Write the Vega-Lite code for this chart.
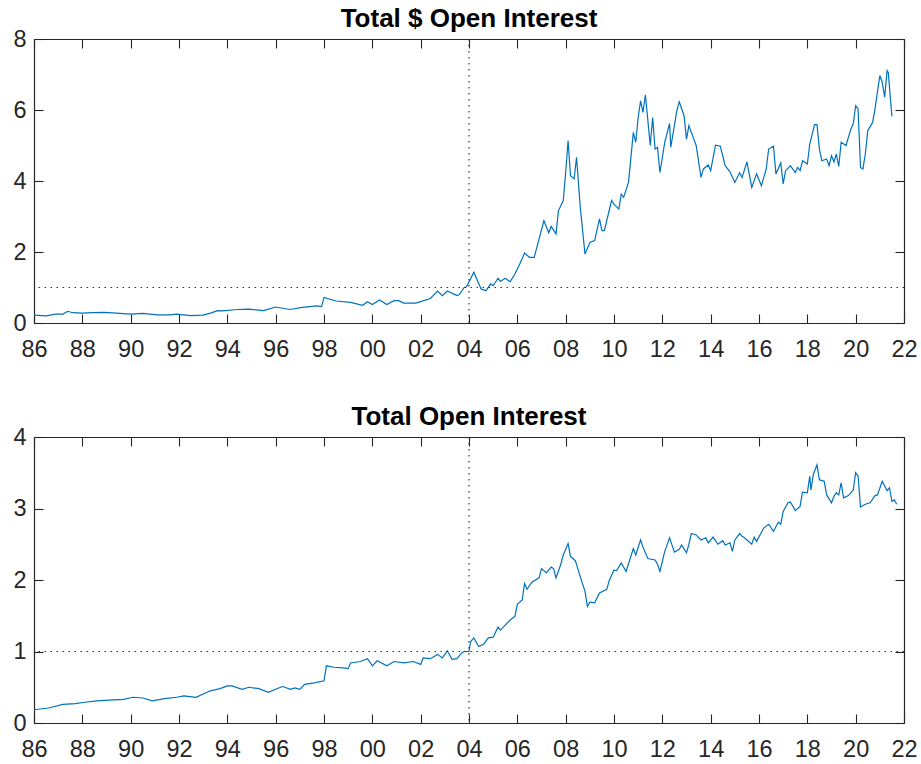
{
  "$schema": "https://vega.github.io/schema/vega-lite/v6.json",
  "padding": {"left": 12, "top": 6, "right": 4, "bottom": 2},
  "background": "white",
  "config": {
    "font": "Liberation Sans",
    "view": {"stroke": null},
    "axis": {"domainColor": "#262626", "tickColor": "#262626", "labelColor": "#262626", "labelFont": "Liberation Sans", "labelFontSize": 23.5, "grid": false, "tickSize": -9, "domainWidth": 1.2, "tickWidth": 1.1, "title": null, "labelFlush": false, "labelOverlap": false},
    "axisBottom": {"labelPadding": 23},
    "axisLeft": {"labelPadding": 17},
    "axisTop": {"labelPadding": 0, "minExtent": 0, "maxExtent": 0},
    "axisRight": {"labelPadding": 0, "minExtent": 0, "maxExtent": 0},
    "title": {"font": "Liberation Sans", "fontSize": 26, "fontWeight": "bold", "color": "#000", "offset": -5}
  },
  "datasets": {
    "dollar": [
      {"t":1986.0,"v":0.22},{"t":1986.5,"v":0.2},{"t":1986.9,"v":0.25},{"t":1987.2,"v":0.25},{"t":1987.4,"v":0.33},{"t":1987.6,"v":0.29},{"t":1988.0,"v":0.28},{"t":1988.4,"v":0.29},{"t":1988.9,"v":0.3},{"t":1989.4,"v":0.28},{"t":1990.0,"v":0.25},{"t":1990.5,"v":0.27},{"t":1991.1,"v":0.23},{"t":1991.6,"v":0.23},{"t":1991.9,"v":0.25},{"t":1992.5,"v":0.21},{"t":1993.0,"v":0.22},{"t":1993.3,"v":0.28},{"t":1993.6,"v":0.35},{"t":1993.8,"v":0.34},{"t":1994.4,"v":0.38},{"t":1994.9,"v":0.39},{"t":1995.5,"v":0.35},{"t":1996.0,"v":0.45},{"t":1996.6,"v":0.38},{"t":1997.1,"v":0.44},{"t":1997.7,"v":0.48},{"t":1997.9,"v":0.46},{"t":1998.0,"v":0.72},{"t":1998.5,"v":0.62},{"t":1999.1,"v":0.58},{"t":1999.6,"v":0.5},{"t":1999.8,"v":0.6},{"t":2000.0,"v":0.52},{"t":2000.3,"v":0.65},{"t":2000.6,"v":0.52},{"t":2000.9,"v":0.63},{"t":2001.1,"v":0.63},{"t":2001.3,"v":0.56},{"t":2001.8,"v":0.56},{"t":2002.4,"v":0.69},{"t":2002.7,"v":0.9},{"t":2002.9,"v":0.77},{"t":2003.1,"v":0.9},{"t":2003.5,"v":0.77},{"t":2003.6,"v":0.8},{"t":2003.8,"v":1.0},{"t":2003.9,"v":1.02},
      {"t":2004.2,"v":1.43},{"t":2004.5,"v":0.96},{"t":2004.7,"v":0.91},{"t":2004.9,"v":1.1},{"t":2005.0,"v":1.05},{"t":2005.2,"v":1.26},{"t":2005.3,"v":1.17},{"t":2005.5,"v":1.26},{"t":2005.7,"v":1.16},{"t":2005.9,"v":1.38},{"t":2006.1,"v":1.66},{"t":2006.3,"v":1.97},{"t":2006.5,"v":1.85},{"t":2006.7,"v":1.85},{"t":2006.9,"v":2.37},{"t":2007.1,"v":2.88},{"t":2007.3,"v":2.54},{"t":2007.4,"v":2.72},{"t":2007.6,"v":2.51},{"t":2007.7,"v":3.16},{"t":2007.9,"v":3.45},{"t":2008.0,"v":4.24},{"t":2008.1,"v":5.14},{"t":2008.2,"v":4.15},{"t":2008.35,"v":4.06},{"t":2008.45,"v":4.67},{"t":2008.6,"v":3.3},{"t":2008.8,"v":1.94},{"t":2009.0,"v":2.27},{"t":2009.2,"v":2.32},{"t":2009.4,"v":2.93},{"t":2009.5,"v":2.6},{"t":2009.6,"v":2.6},{"t":2009.9,"v":3.45},{"t":2010.0,"v":3.35},{"t":2010.2,"v":3.21},{"t":2010.3,"v":3.63},{"t":2010.4,"v":3.54},{"t":2010.6,"v":3.96},{"t":2010.8,"v":5.37},{"t":2010.9,"v":5.09},{"t":2011.0,"v":5.79},{"t":2011.1,"v":6.26},{"t":2011.2,"v":5.93},{"t":2011.3,"v":6.43},{"t":2011.5,"v":5.0},{"t":2011.6,"v":5.79},{"t":2011.7,"v":4.9},{"t":2011.8,"v":4.95},{"t":2011.9,"v":4.24},{"t":2012.1,"v":5.09},{"t":2012.3,"v":5.62},{"t":2012.35,"v":4.95},{"t":2012.6,"v":5.98},{"t":2012.7,"v":6.23},{"t":2012.9,"v":5.84},{"t":2013.0,"v":5.18},{"t":2013.1,"v":5.56},{"t":2013.2,"v":5.37},{"t":2013.4,"v":5.0},{"t":2013.6,"v":4.1},{"t":2013.7,"v":4.34},{"t":2013.9,"v":4.45},{"t":2014.0,"v":4.29},{"t":2014.2,"v":5.01},{"t":2014.4,"v":4.98},{"t":2014.6,"v":4.43},{"t":2014.8,"v":4.26},{"t":2015.0,"v":3.96},{"t":2015.2,"v":4.23},{"t":2015.3,"v":4.1},{"t":2015.5,"v":4.54},{"t":2015.7,"v":3.82},{"t":2015.9,"v":4.2},{"t":2016.1,"v":3.87},{"t":2016.3,"v":4.34},{"t":2016.4,"v":4.9},{"t":2016.6,"v":4.98},{"t":2016.7,"v":4.2},{"t":2016.9,"v":4.51},{"t":2017.0,"v":3.92},{"t":2017.1,"v":4.29},{"t":2017.3,"v":4.43},{"t":2017.5,"v":4.24},{"t":2017.6,"v":4.38},{"t":2017.7,"v":4.29},{"t":2017.8,"v":4.57},{"t":2018.0,"v":4.48},{"t":2018.1,"v":5.04},{"t":2018.3,"v":5.59},{"t":2018.4,"v":5.59},{"t":2018.5,"v":4.9},{"t":2018.6,"v":4.57},{"t":2018.8,"v":4.62},{"t":2018.9,"v":4.43},{"t":2019.0,"v":4.71},{"t":2019.1,"v":4.54},{"t":2019.2,"v":4.76},{"t":2019.3,"v":4.41},{"t":2019.4,"v":5.09},{"t":2019.6,"v":5.0},{"t":2019.8,"v":5.46},{"t":2019.9,"v":5.61},{"t":2020.0,"v":6.12},{"t":2020.1,"v":6.03},{"t":2020.2,"v":4.38},{"t":2020.3,"v":4.34},{"t":2020.4,"v":4.76},{"t":2020.5,"v":5.42},{"t":2020.7,"v":5.65},{"t":2020.8,"v":6.03},{"t":2021.0,"v":6.97},{"t":2021.1,"v":6.78},{"t":2021.2,"v":6.36},{"t":2021.3,"v":7.11},{"t":2021.35,"v":7.06},{"t":2021.45,"v":6.22},{"t":2021.5,"v":5.82}
    ],
    "total": [
      {"t":1986.0,"v":0.185},{"t":1986.6,"v":0.21},{"t":1987.2,"v":0.26},{"t":1987.7,"v":0.27},{"t":1988.1,"v":0.29},{"t":1988.6,"v":0.31},{"t":1989.1,"v":0.32},{"t":1989.7,"v":0.33},{"t":1990.1,"v":0.36},{"t":1990.5,"v":0.35},{"t":1990.9,"v":0.31},{"t":1991.4,"v":0.34},{"t":1991.9,"v":0.36},{"t":1992.2,"v":0.38},{"t":1992.7,"v":0.36},{"t":1993.3,"v":0.45},{"t":1993.7,"v":0.48},{"t":1994.0,"v":0.52},{"t":1994.2,"v":0.52},{"t":1994.6,"v":0.47},{"t":1994.9,"v":0.5},{"t":1995.3,"v":0.48},{"t":1995.7,"v":0.43},{"t":1996.2,"v":0.5},{"t":1996.3,"v":0.51},{"t":1996.6,"v":0.47},{"t":1996.8,"v":0.49},{"t":1997.0,"v":0.47},{"t":1997.2,"v":0.54},{"t":1997.6,"v":0.56},{"t":1998.0,"v":0.59},{"t":1998.1,"v":0.8},{"t":1998.4,"v":0.78},{"t":1998.8,"v":0.77},{"t":1999.0,"v":0.76},{"t":1999.1,"v":0.84},{"t":1999.5,"v":0.86},{"t":1999.8,"v":0.9},{"t":2000.0,"v":0.8},{"t":2000.2,"v":0.87},{"t":2000.6,"v":0.8},{"t":2000.9,"v":0.86},{"t":2001.3,"v":0.84},{"t":2001.7,"v":0.86},{"t":2002.0,"v":0.82},{"t":2002.1,"v":0.91},{"t":2002.4,"v":0.9},{"t":2002.7,"v":0.96},{"t":2002.9,"v":0.91},{"t":2003.1,"v":1.01},{"t":2003.3,"v":0.89},{"t":2003.5,"v":0.9},{"t":2003.7,"v":0.98},{"t":2003.8,"v":1.0},{"t":2004.0,"v":1.0},
      {"t":2004.07,"v":1.14},{"t":2004.2,"v":1.19},{"t":2004.4,"v":1.07},{"t":2004.6,"v":1.1},{"t":2004.8,"v":1.19},{"t":2005.0,"v":1.2},{"t":2005.2,"v":1.34},{"t":2005.3,"v":1.3},{"t":2005.5,"v":1.37},{"t":2005.7,"v":1.44},{"t":2005.9,"v":1.49},{"t":2006.0,"v":1.66},{"t":2006.2,"v":1.72},{"t":2006.3,"v":1.95},{"t":2006.4,"v":1.87},{"t":2006.6,"v":1.97},{"t":2006.9,"v":2.03},{"t":2007.0,"v":2.16},{"t":2007.2,"v":2.1},{"t":2007.4,"v":2.18},{"t":2007.5,"v":2.16},{"t":2007.6,"v":2.03},{"t":2007.8,"v":2.22},{"t":2007.9,"v":2.35},{"t":2008.1,"v":2.51},{"t":2008.2,"v":2.33},{"t":2008.4,"v":2.27},{"t":2008.6,"v":2.05},{"t":2008.8,"v":1.84},{"t":2008.9,"v":1.63},{"t":2009.0,"v":1.69},{"t":2009.2,"v":1.68},{"t":2009.4,"v":1.82},{"t":2009.7,"v":1.87},{"t":2009.8,"v":1.99},{"t":2010.0,"v":2.14},{"t":2010.1,"v":2.13},{"t":2010.3,"v":2.24},{"t":2010.5,"v":2.12},{"t":2010.8,"v":2.44},{"t":2010.9,"v":2.35},{"t":2011.1,"v":2.56},{"t":2011.2,"v":2.46},{"t":2011.4,"v":2.3},{"t":2011.7,"v":2.28},{"t":2011.8,"v":2.22},{"t":2011.9,"v":2.12},{"t":2012.1,"v":2.4},{"t":2012.3,"v":2.59},{"t":2012.5,"v":2.39},{"t":2012.7,"v":2.43},{"t":2012.8,"v":2.49},{"t":2013.0,"v":2.38},{"t":2013.1,"v":2.5},{"t":2013.2,"v":2.65},{"t":2013.4,"v":2.63},{"t":2013.6,"v":2.56},{"t":2013.8,"v":2.59},{"t":2013.9,"v":2.52},{"t":2014.1,"v":2.6},{"t":2014.3,"v":2.5},{"t":2014.5,"v":2.55},{"t":2014.6,"v":2.49},{"t":2014.8,"v":2.52},{"t":2014.9,"v":2.4},{"t":2015.0,"v":2.56},{"t":2015.2,"v":2.65},{"t":2015.3,"v":2.61},{"t":2015.4,"v":2.59},{"t":2015.7,"v":2.5},{"t":2015.8,"v":2.6},{"t":2015.9,"v":2.54},{"t":2016.2,"v":2.73},{"t":2016.4,"v":2.78},{"t":2016.6,"v":2.68},{"t":2016.8,"v":2.81},{"t":2016.9,"v":2.78},{"t":2017.0,"v":2.96},{"t":2017.2,"v":3.08},{"t":2017.3,"v":3.09},{"t":2017.5,"v":2.97},{"t":2017.7,"v":3.03},{"t":2017.8,"v":3.23},{"t":2018.0,"v":3.22},{"t":2018.1,"v":3.45},{"t":2018.15,"v":3.26},{"t":2018.25,"v":3.48},{"t":2018.4,"v":3.61},{"t":2018.5,"v":3.4},{"t":2018.7,"v":3.38},{"t":2018.8,"v":3.19},{"t":2019.0,"v":3.08},{"t":2019.1,"v":3.17},{"t":2019.2,"v":3.22},{"t":2019.3,"v":3.19},{"t":2019.4,"v":3.36},{"t":2019.5,"v":3.15},{"t":2019.7,"v":3.18},{"t":2019.9,"v":3.26},{"t":2020.0,"v":3.5},{"t":2020.1,"v":3.45},{"t":2020.2,"v":3.02},{"t":2020.4,"v":3.06},{"t":2020.6,"v":3.08},{"t":2020.8,"v":3.18},{"t":2020.9,"v":3.19},{"t":2021.1,"v":3.38},{"t":2021.3,"v":3.25},{"t":2021.4,"v":3.29},{"t":2021.5,"v":3.1},{"t":2021.6,"v":3.12},{"t":2021.7,"v":3.06}
    ]
  },
  "spacing": 43,
  "vconcat": [
    {
      "title": {"text": "Total $ Open Interest"},
      "width": 870,
      "height": 284,
      "layer": [
        {
          "data": {"name": "dollar"},
          "mark": {"type": "line", "color": "#0072BD", "strokeWidth": 1.2},
          "encoding": {
            "x": {"field": "t", "type": "quantitative", "scale": {"domain": [1986, 2022], "nice": false, "zero": false}, "axis": {"orient": "bottom", "values": [1986,1988,1990,1992,1994,1996,1998,2000,2002,2004,2006,2008,2010,2012,2014,2016,2018,2020,2022], "format": "d", "labelExpr": "slice(datum.label, 2)"}},
            "y": {"field": "v", "type": "quantitative", "scale": {"domain": [0, 8], "nice": false}, "axis": {"orient": "left", "values": [0,2,4,6,8]}}
          }
        },
        {
          "data": {"values": [{}]},
          "mark": {"type": "rule", "strokeDash": [1.5, 4.5], "color": "#333333", "strokeWidth": 1.2},
          "encoding": {"y": {"datum": 1, "type": "quantitative", "axis": null}}
        },
        {
          "data": {"values": [{}]},
          "mark": {"type": "rule", "strokeDash": [1.5, 4.5], "color": "#333333", "strokeWidth": 1.2},
          "encoding": {"x": {"datum": 2004, "type": "quantitative", "axis": null}}
        },
        {
          "data": {"name": "dollar"},
          "mark": {"type": "line", "opacity": 0},
          "encoding": {
            "x": {"field": "t", "type": "quantitative", "axis": {"orient": "top", "labels": false, "labelPadding": 0, "minExtent": 0, "maxExtent": 0, "values": [1986,1988,1990,1992,1994,1996,1998,2000,2002,2004,2006,2008,2010,2012,2014,2016,2018,2020,2022]}},
            "y": {"field": "v", "type": "quantitative", "axis": {"orient": "right", "labels": false, "labelPadding": 0, "minExtent": 0, "maxExtent": 0, "values": [0,2,4,6,8]}}
          }
        }
      ],
      "resolve": {"axis": {"x": "independent", "y": "independent"}}
    },
    {
      "title": {"text": "Total Open Interest"},
      "width": 870,
      "height": 286,
      "layer": [
        {
          "data": {"name": "total"},
          "mark": {"type": "line", "color": "#0072BD", "strokeWidth": 1.2},
          "encoding": {
            "x": {"field": "t", "type": "quantitative", "scale": {"domain": [1986, 2022], "nice": false, "zero": false}, "axis": {"orient": "bottom", "values": [1986,1988,1990,1992,1994,1996,1998,2000,2002,2004,2006,2008,2010,2012,2014,2016,2018,2020,2022], "format": "d", "labelExpr": "slice(datum.label, 2)"}},
            "y": {"field": "v", "type": "quantitative", "scale": {"domain": [0, 4], "nice": false}, "axis": {"orient": "left", "values": [0,1,2,3,4]}}
          }
        },
        {
          "data": {"values": [{}]},
          "mark": {"type": "rule", "strokeDash": [1.5, 4.5], "color": "#333333", "strokeWidth": 1.2},
          "encoding": {"y": {"datum": 1, "type": "quantitative", "axis": null}}
        },
        {
          "data": {"values": [{}]},
          "mark": {"type": "rule", "strokeDash": [1.5, 4.5], "color": "#333333", "strokeWidth": 1.2},
          "encoding": {"x": {"datum": 2004, "type": "quantitative", "axis": null}}
        },
        {
          "data": {"name": "total"},
          "mark": {"type": "line", "opacity": 0},
          "encoding": {
            "x": {"field": "t", "type": "quantitative", "axis": {"orient": "top", "labels": false, "labelPadding": 0, "minExtent": 0, "maxExtent": 0, "values": [1986,1988,1990,1992,1994,1996,1998,2000,2002,2004,2006,2008,2010,2012,2014,2016,2018,2020,2022]}},
            "y": {"field": "v", "type": "quantitative", "axis": {"orient": "right", "labels": false, "labelPadding": 0, "minExtent": 0, "maxExtent": 0, "values": [0,1,2,3,4]}}
          }
        }
      ],
      "resolve": {"axis": {"x": "independent", "y": "independent"}}
    }
  ]
}
